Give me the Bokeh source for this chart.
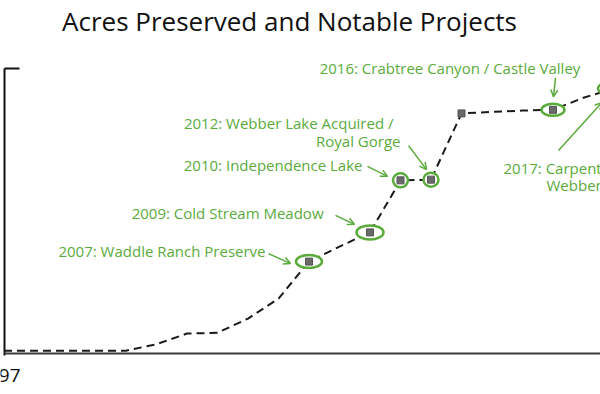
from bokeh.plotting import figure
from bokeh.models import Range1d, Arrow, OpenHead, ColumnDataSource
from bokeh.embed import file_html
from bokeh.resources import INLINE
from bokeh.core.properties import value

# ---------------- data ----------------
years = [1997, 1998, 1999, 2000, 2001, 2002, 2003, 2004, 2005, 2006, 2007,
         2008, 2009, 2010, 2011, 2012, 2013, 2014, 2015, 2016, 2017]
acres = [400, 400, 400, 400, 400, 1300, 2800, 2900, 4900, 7700, 12900,
         15000, 17000, 24300, 24400, 33700, 33900, 34100, 34200, 35900, 37200]

marker_years = [2007, 2009, 2010, 2011, 2012, 2015, 2017]
ring_years = [2007, 2009, 2010, 2011, 2015, 2017]

note_years = [2007, 2009, 2010, 2011, 2011, 2015, 2017, 2017]
note_texts = ["2007: Waddle Ranch Preserve",
              "2009: Cold Stream Meadow",
              "2010: Independence Lake",
              "2012: Webber Lake Acquired /",
              "Royal Gorge",
              "2016: Crabtree Canyon / Castle Valley",
              "2017: Carpenter Valley /",
              "Webber Falls"]
arrow_years = [2007, 2009, 2010, 2011, 2015, 2017]

tick_years = [1997]
tick_labels = ["1997"]
axis_top = 40000
title_text = "Acres Preserved and Notable Projects"

# ---------------- layout / style ----------------
W, H = 600, 394
PX_PER_YEAR = 30.5
X_START = 2007 - 308.5 / PX_PER_YEAR
K = 285 / axis_top              # px per acre
BASE_PX = 353                   # screen px (from top of canvas) of zero acres
Y_END = BASE_PX / K
Y_START = -(H - BASE_PX) / K
X_END = X_START + W / PX_PER_YEAR

GREEN = "#5aab3c"
FONT = "Open Sans"

def dx(px):
    return px / PX_PER_YEAR

def dy(px):
    return -px / K

def val(year):
    return acres[years.index(year)]

p = figure(width=W, height=H, output_backend="svg", toolbar_location=None,
           x_range=Range1d(X_START, X_END),
           y_range=Range1d(Y_START, Y_END),
           min_border=0, min_border_left=0, min_border_right=0,
           min_border_top=0, min_border_bottom=0)
p.axis.visible = False
p.grid.visible = False
p.outline_line_color = None
p.background_fill_color = "white"
p.border_fill_color = "white"

# axes drawn as lines
x_left = X_START + dx(4)
p.segment(x0=[x_left], y0=[dy(2)], x1=[x_left], y1=[axis_top], line_color="#111", line_width=2)
p.segment(x0=[x_left], y0=[axis_top], x1=[x_left + dx(15)], y1=[axis_top], line_color="#111", line_width=2)
p.segment(x0=[x_left], y0=[0], x1=[X_END], y1=[0], line_color="#3a3a3a", line_width=2)

# tick label (cut at the left edge, as in the source image)
p.text(x=[t + dx(16.5) for t in tick_years], y=[0 + dy(21.5)], text=tick_labels,
       text_align="right", text_baseline="middle",
       text_font=value(FONT), text_font_size="19px", text_color="#111")

# title
p.text(x=[X_START + dx(289)], y=[Y_END + dy(20)], text=[title_text], text_align="center",
       text_baseline="middle", text_font=value(FONT), text_font_size="26px", text_color="#111")

# data line
p.line(years, acres, line_color="#1a1a1a", line_width=2, line_dash="8 5")

# rings
ring_w = [26, 27, 15, 15, 23, 32]
ring_h = [13, 14, 14, 14, 12, 14]
p.ellipse(x=ring_years, y=[val(y) for y in ring_years], width=ring_w, height=ring_h,
          width_units="screen", height_units="screen",
          fill_color="white", line_color=GREEN, line_width=2.5)

# markers
p.scatter(x=marker_years, y=[val(y) for y in marker_years], marker="square", size=7,
          fill_color="#6a6a6a", line_color="#555555", line_width=1)

# annotation texts (offsets in px relative to the point)
note_off = [(-43.5, -11), (-46.5, -19), (-38, -15), (-37.5, -57), (-30.5, -39),
            (-103, -42), (-110.5, 80), (-67.5, 97)]
note_align = ["right", "right", "right", "right", "right", "center", "left", "left"]
tx = [y + dx(o[0]) for y, o in zip(note_years, note_off)]
ty = [val(y) + dy(o[1]) for y, o in zip(note_years, note_off)]
src = ColumnDataSource(dict(x=tx, y=ty, t=note_texts, a=note_align))
p.text(x="x", y="y", text="t", text_align="a", text_baseline="middle", source=src,
       text_font=value(FONT), text_font_size="15px", text_color=GREEN)

# arrows
arr_off = [((-40.5, -8), (-18.5, 2)), ((-34.5, -17), (-15.5, -8)), ((-33, -14), (-13, -4)),
           ((-22.5, -34), (-4.5, -10)), ((2.5, -32), (0.5, -13)), ((-55.5, 62), (-12, 14))]
asrc = ColumnDataSource(dict(
    x0=[y + dx(o[0][0]) for y, o in zip(arrow_years, arr_off)],
    y0=[val(y) + dy(o[0][1]) for y, o in zip(arrow_years, arr_off)],
    x1=[y + dx(o[1][0]) for y, o in zip(arrow_years, arr_off)],
    y1=[val(y) + dy(o[1][1]) for y, o in zip(arrow_years, arr_off)],
))
p.add_layout(Arrow(end=OpenHead(size=7, line_color=GREEN, line_width=1.5),
                   x_start="x0", y_start="y0", x_end="x1", y_end="y1", source=asrc,
                   line_color=GREEN, line_width=1.5))

open("out.html", "w").write(file_html(p, INLINE))
